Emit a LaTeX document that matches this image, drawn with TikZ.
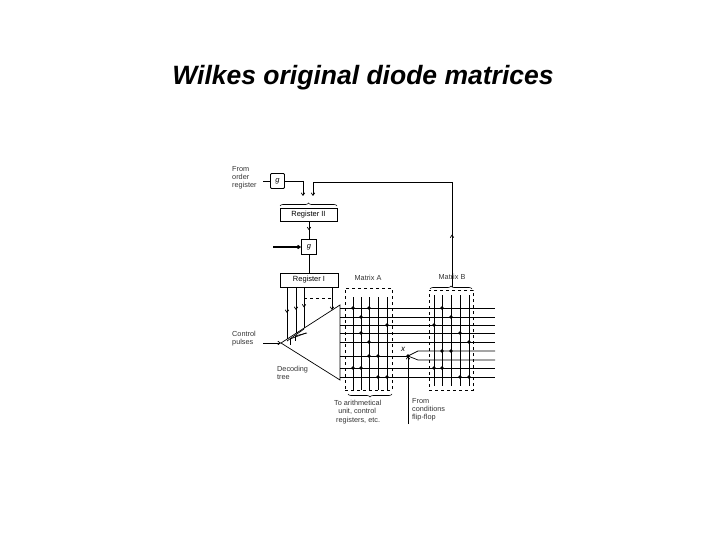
\documentclass[tikz,border=0pt]{standalone}
\usepackage{fontspec}
\setmainfont{Liberation Sans}
\usetikzlibrary{decorations.pathreplacing,decorations.markings,arrows.meta}
\begin{document}
\begin{tikzpicture}[x=1pt,y=-1pt,
  ln/.style={line width=0.7pt},
  box/.style={draw,line width=0.8pt,inner sep=0pt,font=\fontsize{7.5}{8}\selectfont},
  lbl/.style={font=\fontsize{7.3}{8.3}\selectfont,align=left,inner sep=0pt,text=black!80},
  arr/.style={-{Straight Barb[length=2.5pt,width=3.5pt]}},
  midarr/.style={postaction={decorate},decoration={markings,mark=at position 0.5 with {\arrow{Straight Barb[length=2.5pt,width=3.5pt]}}}},
  dbox/.style={draw,dashed,line width=0.6pt},
  brc/.style={decorate,decoration={brace,amplitude=3pt},line width=0.6pt}]
\useasboundingbox (0,0) rectangle (720,540);
\node[font=\bfseries\itshape\fontsize{26.5}{30}\selectfont] (title) at (363,78) {Wilkes original diode matrices};
% top part
\node[lbl,anchor=north west] (from) at (232,166) {From\\order\\register};
\node[box,minimum width=14pt,minimum height=15pt,rounded corners=1pt] (g1) at (277.5,181) {\itshape g};
\node[box,minimum width=57pt,minimum height=13pt] (r2) at (308.5,214.5) {Register II};
\node[box,minimum width=15pt,minimum height=15pt] (g2) at (309,247) {\itshape g};
\node[box,minimum width=58pt,minimum height=14pt] (r1) at (309,280) {Register I};
\draw[ln] (263,181) -- (g1.west);
\draw[ln] (g1.east) -- (303,181);
\draw[ln,arr] (303,181) -- (303,196);
\coordinate (fbtop) at (452,182);
\coordinate (fbbot) at (452,287);
\draw[ln,midarr] (fbbot) -- (fbtop);
\draw[ln,arr] (fbtop) -- (313,182) -- (313,196);
\draw[brc] (280,206) -- (337,206);
\draw[ln,midarr] (r2.south -| g2.north) -- (g2.north);
\draw[ln,line width=1.1pt,arr] (273,247) -- (g2.west);
\draw[ln,line width=1pt] (g2.south) -- (r1.north -| g2.south);
% triangle
\coordinate (apex) at (281,343);
\coordinate (tt) at (340,305);
\coordinate (tb) at (340,380);
\draw[ln] (apex) -- (tt) -- (tb) -- cycle;
\foreach \x/\y in {287/339,296/333,304/328}{
  \draw[ln,midarr] (\x,287) -- (\x,\y);}
\draw[ln,dashed] (304,298) -- (332,298);
\draw[ln,arr] (332,287) -- (332,310);
\draw[ln] (287,341) -- (304,329);
\draw[ln] (290,339) -- (290,345);
\draw[ln] (295,336) -- (295,341);
\draw[ln] (290,339) -- (306,333);
\draw[ln] (295,336) -- (307,333);
\node[lbl,anchor=north west] (cp) at (232,331) {Control\\pulses};
\draw[ln,arr] (263,343) -- (apex);
\node[lbl,anchor=north west] (dt) at (277,366) {Decoding\\tree};
% matrices
\node[dbox,minimum width=47pt,minimum height=102pt] (ma) at (368.5,339) {};
\node[dbox,minimum width=44pt,minimum height=100pt] (mb) at (451,340) {};
\node[lbl] (mal) at (368,278) {Matrix A};
\node[lbl] (mbl) at (452,277) {Matrix B};
\draw[brc] (430,289) -- (472,289);
\draw[brc] (392,394) -- (348,394);
\foreach \y in {308,317,325,333,342,368,377}{
  \draw[ln] (340,\y) -- (495,\y);}
\coordinate (xp) at (408,356);
\draw[ln] (340,356) -- (xp);
\draw[ln] (xp) -- (418,351) -- (495,351);
\draw[ln] (xp) -- (418,360) -- (495,360);
\fill (xp) circle (1.8pt);
\node[font=\itshape\fontsize{8}{8}\selectfont] (xl) at (403,349) {x};
\draw[ln,arr] (408,424) -- (xp);
\foreach \x in {353,361,369,378,387}{\draw[ln] (\x,297) -- (\x,390);}
\foreach \x in {434,442,451,460,469}{\draw[ln] (\x,295) -- (\x,386);}
\foreach \a/\b in {353/308,369/308,361/317,387/325,361/333,369/342,369/356,378/356,353/368,361/368,378/377,387/377,442/308,451/317,434/325,460/333,469/342,442/351,451/351,434/368,442/368,460/377,469/377}{
  \fill (\a,\b) circle (1.8pt);}
\node[lbl,anchor=north west] (to) at (334,400) {To arithmetical\\\ \ unit, control\\\ registers, etc.};
\node[lbl,anchor=north west] (ff) at (412,398) {From\\conditions\\flip-flop};
\end{tikzpicture}
\end{document}
